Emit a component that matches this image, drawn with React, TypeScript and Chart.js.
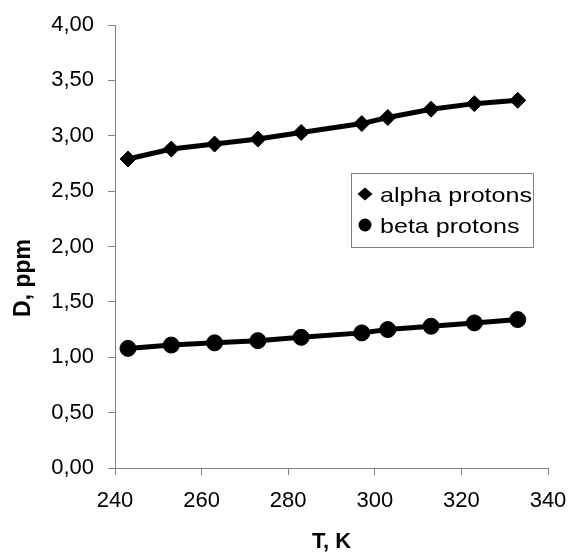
import React, { useEffect, useRef } from "react";
import { Chart, registerables } from "chart.js";

Chart.register(...registerables);

const temperatures = [243, 253, 263, 273, 283, 297, 303, 313, 323, 333];
const alphaProtons = [2.79, 2.88, 2.925, 2.97, 3.03, 3.11, 3.165, 3.24, 3.29, 3.32];
const betaProtons = [1.08, 1.11, 1.13, 1.15, 1.18, 1.22, 1.25, 1.28, 1.31, 1.34];
const seriesNames = ["alpha protons", "beta protons"];
const seriesMarkers = ["rectRot", "circle"];
const xTitle = "T, K";
const yTitle = "D, ppm";
const xRange = [240, 340, 20];
const yRange = [0, 4, 0.5];

const FONT = "'Liberation Sans', Arial, Helvetica, sans-serif";
const TICK_SIZE = 22;

const boxLegend = {
  id: "boxLegend",
  afterDraw(chart: any) {
    const ctx = chart.ctx as CanvasRenderingContext2D;
    const bx = 351, by = 173, bw = 182, bh = 74;
    ctx.save();
    ctx.strokeStyle = "#808080";
    ctx.lineWidth = 1;
    ctx.strokeRect(bx + 0.5, by + 0.5, bw, bh);
    ctx.font = `21px ${FONT}`;
    ctx.textBaseline = "alphabetic";
    ctx.fillStyle = "#000";
    const stretch = 152 / ctx.measureText(chart.data.datasets[0].label).width;
    chart.data.datasets.forEach((ds: any, i: number) => {
      const cy = by + 21 + i * 31;
      const mx = bx + 14;
      ctx.beginPath();
      if (ds.pointStyle === "rectRot") {
        const rx = 7.5, ry = 6.5;
        ctx.moveTo(mx, cy - ry);
        ctx.lineTo(mx + rx, cy);
        ctx.lineTo(mx, cy + ry);
        ctx.lineTo(mx - rx, cy);
        ctx.closePath();
      } else {
        ctx.arc(mx, cy, 6.5, 0, Math.PI * 2);
      }
      ctx.fill();
      ctx.save();
      ctx.translate(bx + 29, cy + 8);
      ctx.scale(stretch, 1);
      ctx.fillText(ds.label, 0, 0);
      ctx.restore();
    });
    // vertical axis title
    ctx.save();
    ctx.font = `bold 23px ${FONT}`;
    ctx.textAlign = "center";
    ctx.textBaseline = "middle";
    ctx.translate(24, 278);
    ctx.rotate(-Math.PI / 2);
    ctx.fillText(yTitle, 0, 0);
    ctx.restore();
    ctx.restore();
  },
};

const fmt = (v: number) => v.toFixed(2).replace(".", ",");

export default function App() {
  const ref = useRef<HTMLCanvasElement | null>(null);

  useEffect(() => {
    document.body.style.margin = "0";
    const series = [alphaProtons, betaProtons];
    const chart = new Chart(ref.current as HTMLCanvasElement, {
      type: "scatter",
      data: {
        datasets: series.map((vals, i) => ({
          label: seriesNames[i],
          data: temperatures.map((t, j) => ({ x: t, y: vals[j] })),
          showLine: true,
          borderColor: "#000",
          backgroundColor: "#000",
          borderWidth: 5,
          pointStyle: seriesMarkers[i] as any,
          pointRadius: 8,
          pointBorderWidth: 1,
          pointBorderColor: "#000",
          pointBackgroundColor: "#000",
          tension: 0,
        })),
      },
      options: {
        animation: false,
        responsive: false,
        layout: { autoPadding: false, padding: { top: 25, right: 23, left: 0, bottom: 0 } },
        plugins: { legend: { display: false }, tooltip: { enabled: false } },
        scales: {
          x: {
            type: "linear",
            min: xRange[0],
            max: xRange[1],
            ticks: {
              stepSize: xRange[2],
              color: "#000",
              font: { family: FONT, size: TICK_SIZE },
              padding: 13,
              maxRotation: 0,
            },
            grid: { drawOnChartArea: false, drawTicks: true, tickLength: 7, color: "#808080" },
            border: { color: "#808080", width: 1 },
            title: {
              display: true,
              text: xTitle,
              color: "#000",
              font: { family: FONT, size: 22, weight: "bold" },
              padding: { top: 0, bottom: -2 },
            },
            afterFit: (s: any) => {
              s.height = 85;
              s.paddingLeft = 0;
              s.paddingRight = 0;
            },
          },
          y: {
            type: "linear",
            min: yRange[0],
            max: yRange[1],
            ticks: {
              stepSize: yRange[2],
              color: "#000",
              font: { family: FONT, size: TICK_SIZE },
              padding: 14,
              callback: (v: any) => fmt(Number(v)),
            },
            grid: { drawOnChartArea: false, drawTicks: true, tickLength: 7, color: "#808080" },
            border: { color: "#808080", width: 1 },
            title: { display: false },
            afterFit: (s: any) => {
              s.width = 115;
              s.paddingTop = 0;
              s.paddingBottom = 0;
            },
          },
        },
      },
      plugins: [boxLegend],
    });
    return () => chart.destroy();
  }, []);

  return (
    <div style={{ position: "absolute", left: 0, top: 0, width: 571, height: 553, background: "#fff" }}>
      <canvas ref={ref} width={571} height={553} />
    </div>
  );
}
